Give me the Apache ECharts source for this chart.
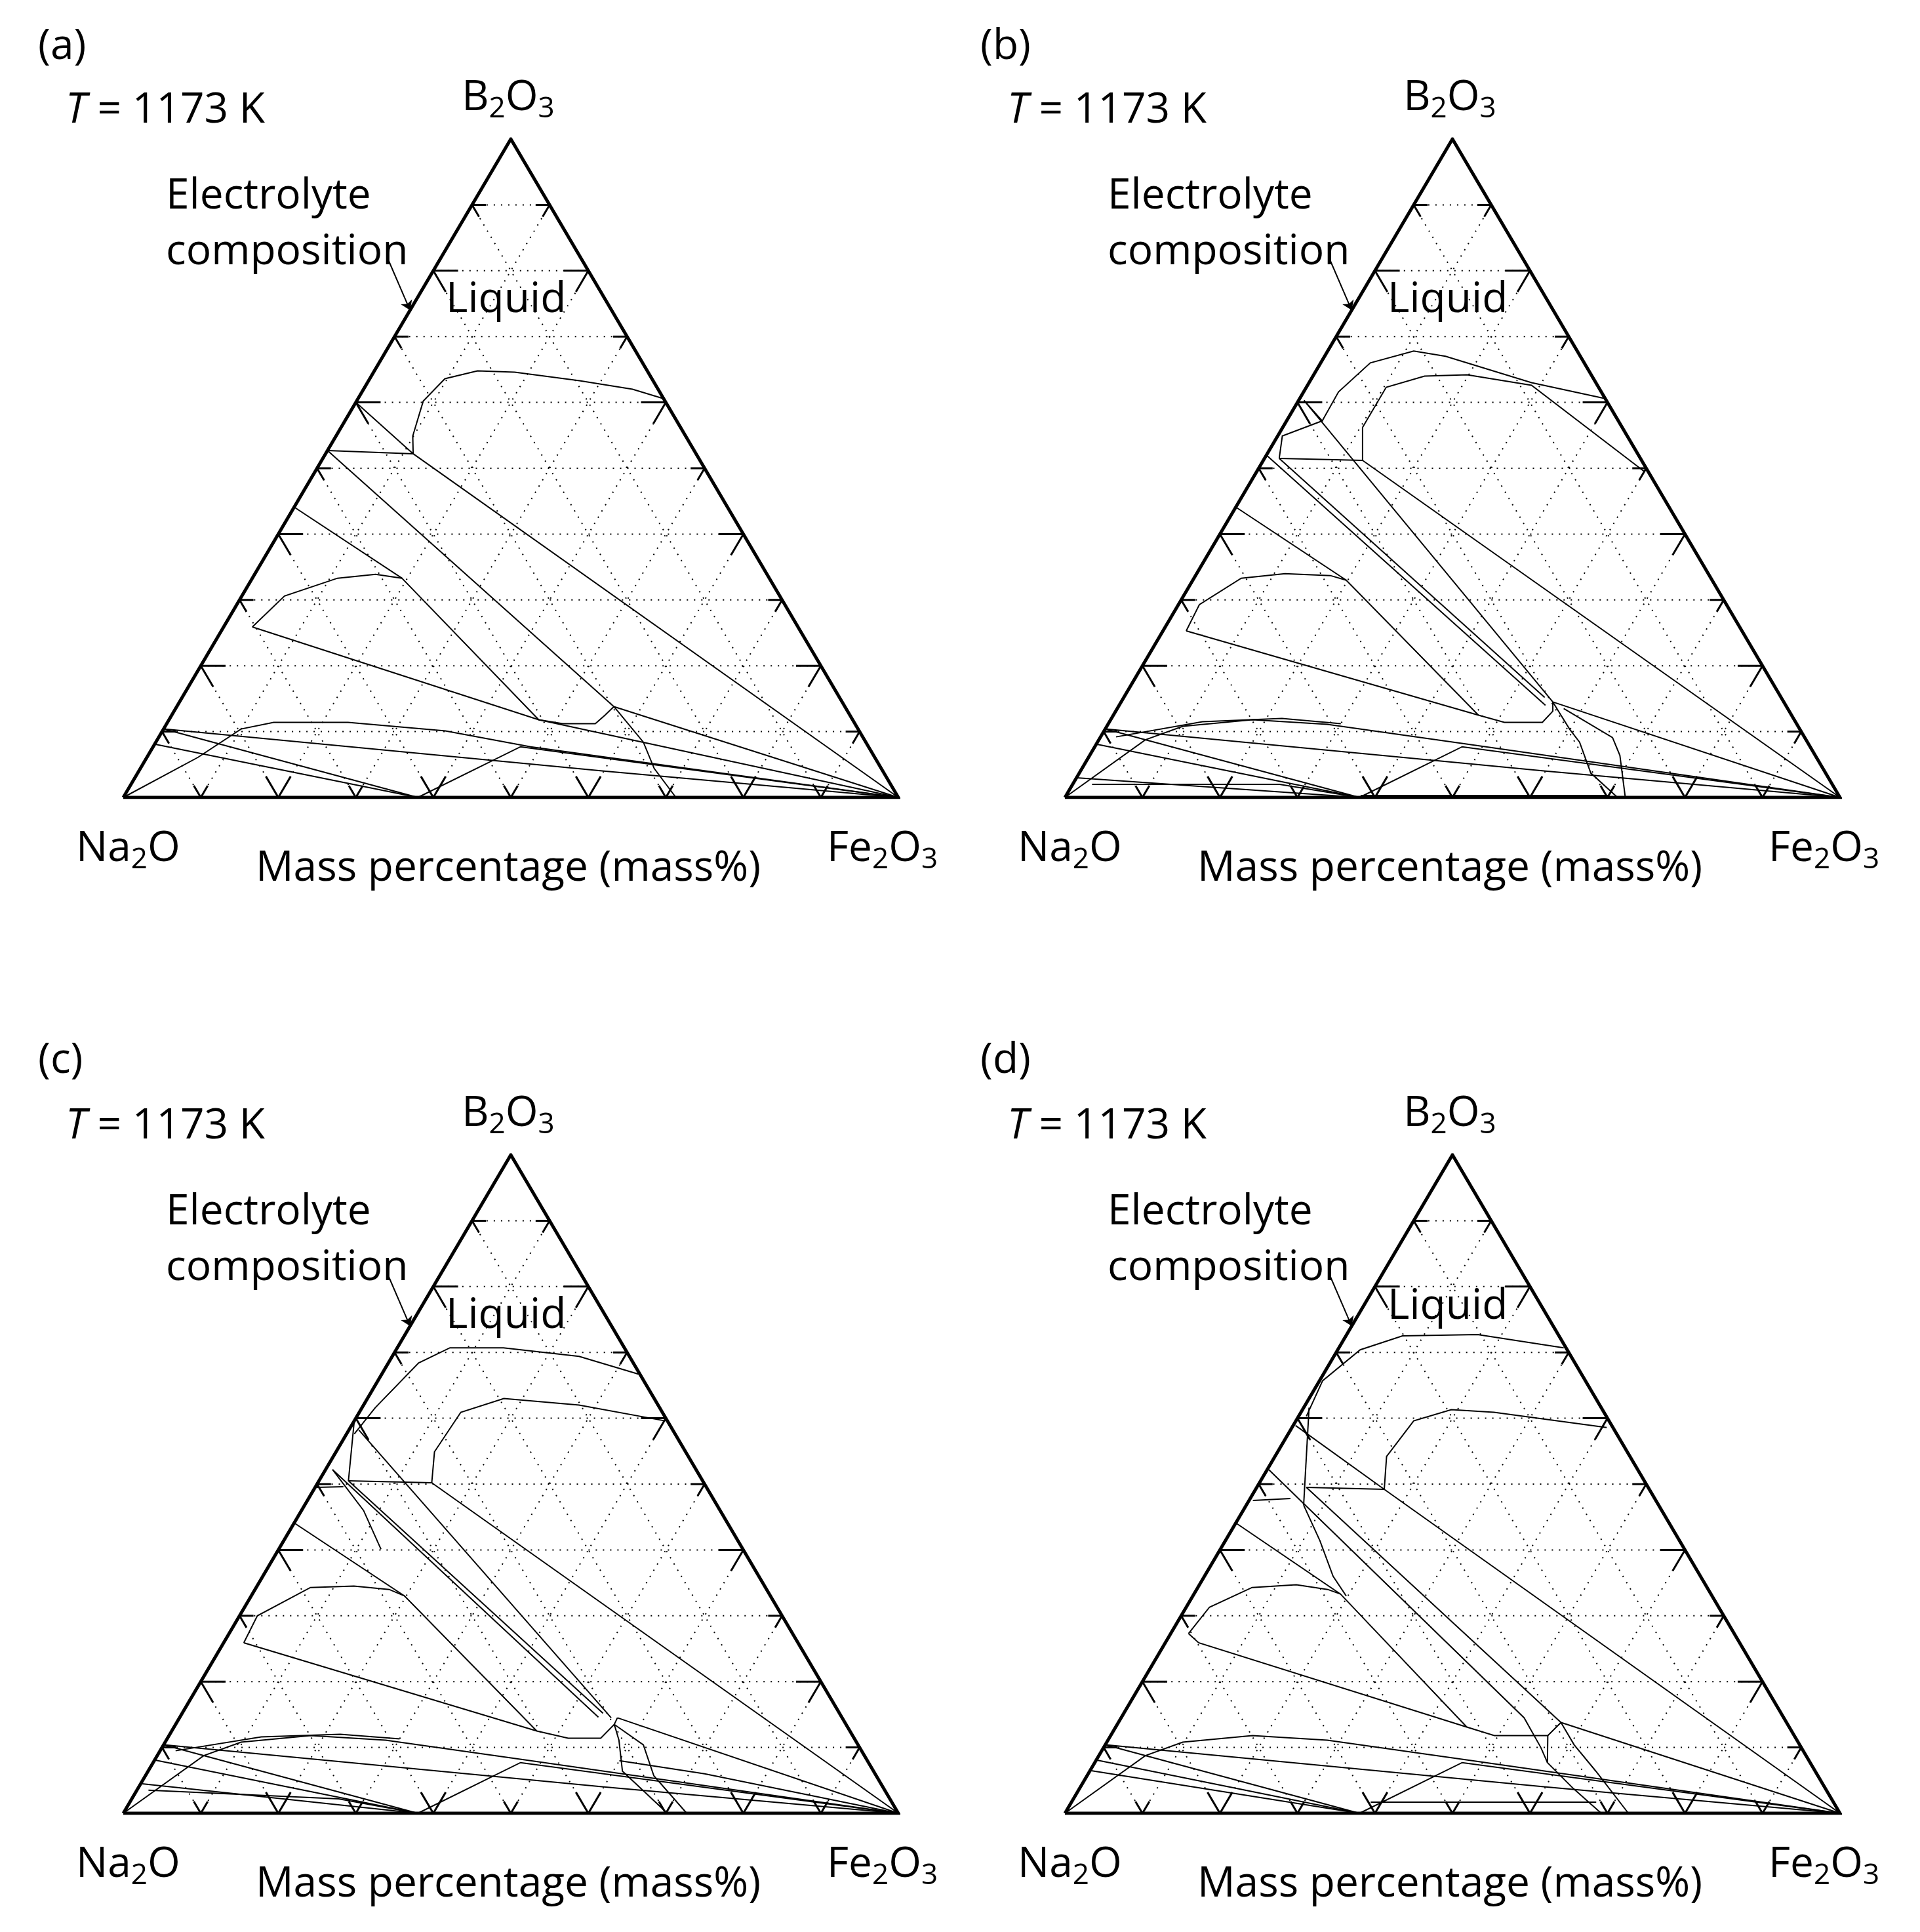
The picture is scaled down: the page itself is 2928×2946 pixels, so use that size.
<!DOCTYPE html>
<html>
<head>
<meta charset="utf-8">
<title>Na2O-B2O3-Fe2O3 1173 K</title>
<script src="https://cdn.jsdelivr.net/npm/echarts@6/dist/echarts.min.js"></script>
<style>
  body { margin: 0; background: #fff; }
  #main { width: 2928px; height: 2946px; }
</style>
</head>
<body>
<div id="main"></div>
<script>
// points are [Fe2O3 mass%, B2O3 mass%]; Na2O is the rest
const panelLabels = ['(a)', '(b)', '(c)', '(d)'];
const gridTicks = [10, 20, 30, 40, 50, 60, 70, 80, 90];
const arrowLine = [[-6.5, 81.5], [0, 74.0]];

const curvesA = [
  [[11.3,52.2],[9.9,54.9],[8.6,60.2],[9.7,63.6],[13.3,64.8],[18.2,64.6],[27.2,63.3],[34.7,62.0],[39.3,60.6]],
  [[0,52.7],[11.3,52.2]],
  [[0,60.0],[11.3,52.2]],
  [[11.3,52.2],[100,0]],
  [[0,52.7],[56.4,13.8]],
  [[56.4,13.8],[100,0]],
  [[56.4,13.8],[62.9,8.4],[66.3,4.4],[71.3,0]],
  [[0,44.1],[19.3,33.3]],
  [[3.7,25.9],[5.5,30.6],[11.0,33.3],[15.6,33.9],[19.3,33.3],[47.7,11.8],[51.1,11.2],[55.3,11.2],[55.9,12.5],[56.4,13.8]],
  [[3.7,25.9],[47.7,11.8],[100,0]],
  [[0,0],[6.6,6.1],[10.0,10.4],[13.7,11.4],[23.3,11.4],[36.5,10.1],[48.7,7.7],[100,0]],
  [[0,10.4],[38,0]],
  [[0,8.1],[38,0]],
  [[0,10.4],[60,4],[100,0]],
  [[38,0],[47.4,7.7],[100,0]]
];

const curvesB = [
  [[4.6,57.2],[4.5,61.6],[6.4,66.0],[11.1,67.8],[15.6,67.0],[28.7,63.0],[39.3,60.6]],
  [[12.8,51.2],[10.3,56.2],[10.3,62.3],[14.4,64.0],[19.8,64.2],[28.9,62.6],[50.0,49.5]],
  [[0.7,60.3],[4.6,57.2],[0.6,54.9],[1.9,51.5]],
  [[1.9,51.5],[12.8,51.2]],
  [[12.8,51.2],[100,0]],
  [[0.7,60.3],[55.7,14.5]],
  [[1.9,51.5],[54.3,15.2]],
  [[0,52.0],[55.0,14.0]],
  [[0,44.1],[19.8,33.0],[47.1,12.5]],
  [[3.0,25.3],[2.7,29.3],[6.1,33.3],[11.4,34.0],[17.4,33.7],[19.8,33.0]],
  [[3.0,25.3],[47.1,12.5],[51.0,11.4],[55.9,11.4],[56.4,13.1],[55.7,14.5]],
  [[55.7,14.5],[100,0]],
  [[55.7,14.5],[59.9,10.4],[62.2,8.4],[66.0,3.7],[71.3,0]],
  [[57.6,13.5],[66.1,9.1],[68.4,6.4],[72.3,0]],
  [[0,0],[6.0,8.75],[9.8,10.8],[18.3,11.8],[28.3,11.1],[47.9,8.1],[100,0]],
  [[2.0,9.2],[12.0,11.5],[22.0,12.0],[30.0,11.2]],
  [[0,10.4],[38,0]],
  [[0,8.1],[38,0]],
  [[0,10.4],[60,4],[100,0]],
  [[2.5,2.0],[26.7,2.0],[38,0]],
  [[0,3.0],[38,0]],
  [[38,0],[47.4,7.7],[100,0]],
  [[38,0.3],[70,0.3]]
];

const curvesC = [
  [[1.0,57.6],[1.7,61.6],[3.9,68.4],[6.8,70.7],[13.7,70.7],[24.1,69.4],[33.1,66.7]],
  [[14.7,50.2],[12.7,54.9],[13.1,60.9],[17.6,63.0],[27.8,62.0],[40.1,59.6]],
  [[3.8,50.5],[14.7,50.2]],
  [[0.2,49.5],[3.6,49.6]],
  [[14.7,50.2],[100,0]],
  [[0,59.6],[3.8,50.5]],
  [[0.9,52.2],[8.0,46.0],[13.2,40.1]],
  [[1.3,58.2],[55.7,14.5]],
  [[3.8,50.5],[54.3,15.2]],
  [[0.9,52.2],[54.0,14.6]],
  [[0,44.1],[19.8,33.0],[47.1,12.5]],
  [[2.6,25.9],[2.3,30.0],[7.0,34.3],[12.5,34.5],[17.3,34.0],[19.8,33.0]],
  [[2.6,25.9],[47.1,12.5],[51.7,11.4],[55.9,11.4],[56.6,13.5],[56.5,14.5]],
  [[56.5,14.5],[100,0]],
  [[56.6,13.5],[58.4,11.1],[61.2,6.4],[70.2,0]],
  [[56.6,13.5],[61.9,10.4],[65.6,5.7],[72.7,0]],
  [[0,0],[6.0,8.75],[9.8,10.8],[18.3,11.8],[28.3,11.1],[47.9,8.1],[100,0]],
  [[2.0,9.5],[12.0,11.6],[22.0,12.0],[30.0,11.3]],
  [[0,10.4],[38,0]],
  [[0,8.1],[38,0]],
  [[0,10.4],[60,4],[100,0]],
  [[0,4.5],[38,0]],
  [[1.5,3.5],[26.7,2.2],[38,0]],
  [[38,0],[47.4,7.7],[100,0]],
  [[60,8],[72,6],[100,0]]
];

const curvesD = [
  [[1.0,60.3],[0.4,65.7],[2.9,70.4],[7.3,72.5],[16.9,72.7],[29.0,70.7]],
  [[16.6,49.2],[14.4,54.2],[15.2,59.6],[19.2,61.3],[24.9,60.9],[40.6,58.6]],
  [[6.4,49.5],[16.6,49.2]],
  [[0.5,47.5],[5.2,47.8]],
  [[0.7,61.6],[7.4,46.8]],
  [[16.6,49.2],[100,0]],
  [[0.3,58.9],[16.6,49.2]],
  [[7.4,46.8],[12.2,41.4],[16.6,36.0],[19.8,33.0]],
  [[6.4,49.5],[57.1,13.8]],
  [[0.2,52.2],[52.0,14.5],[56.4,10.0],[58.4,7.7]],
  [[0,44.1],[18.9,33.3],[45.3,13.1]],
  [[2.3,27.3],[3.0,31.3],[7.0,34.3],[12.5,34.7],[16.9,34.0],[18.9,33.3]],
  [[2.3,27.3],[4.3,25.9],[45.3,13.1],[49.5,11.8],[56.4,11.8],[57.1,13.8]],
  [[57.1,13.8],[100,0]],
  [[57.1,13.8],[60.5,10.4],[65.3,6.4],[72.7,0]],
  [[56.4,11.8],[58.4,7.7],[63.8,3.7],[69.2,0]],
  [[0,0],[6.0,8.75],[9.8,10.8],[18.3,11.8],[28.3,11.1],[47.9,8.1],[100,0]],
  [[0,10.4],[38,0]],
  [[0,8.1],[38,0]],
  [[0,6.5],[38,0]],
  [[0,10.4],[60,4],[100,0]],
  [[38,0],[47.4,7.7],[100,0]],
  [[38.6,1.7],[67.7,1.7]]
];
const panelCurves = [curvesA, curvesB, curvesC, curvesD];

const H = Math.sqrt(3) / 2;
function toXY(p) { return [p[0] / 100 + p[1] / 200, p[1] / 100 * H]; }
function seg(a, b) { return { coords: [toXY(a), toXY(b)] }; }

// dotted composition grid
const gridSegs = [];
gridTicks.forEach(k => {
  gridSegs.push(seg([0, k], [100 - k, k]));
  gridSegs.push(seg([k, 0], [k, 100 - k]));
  gridSegs.push(seg([100 - k, 0], [0, 100 - k]));
});
// tick marks on the sides
const tickSegs = [];
gridTicks.forEach(k => {
  const L = (k % 20 === 0) ? 3.2 : 1.8;
  tickSegs.push(seg([0, k], [L, k]));
  tickSegs.push(seg([0, k], [L, k - L]));
  tickSegs.push(seg([100 - k, k], [100 - k - L, k]));
  tickSegs.push(seg([100 - k, k], [100 - k, k - L]));
  tickSegs.push(seg([k, 0], [k - L, L]));
  tickSegs.push(seg([k, 0], [k, L]));
});
const frame = [{ coords: [[0, 0], [1, 0], [0.5, H], [0, 0]] }];

const panels = [
  { left: 188, top: 212, lx: 58, ly: 72 },
  { left: 1624, top: 212, lx: 1495, ly: 72 },
  { left: 188, top: 1761, lx: 58, ly: 1618 },
  { left: 1624, top: 1761, lx: 1495, ly: 1618 }
];
const W = 1182, HT = 1004;
const font = 'Open Sans, Liberation Sans, sans-serif';
const rich = {
  n: { fontSize: 64, fontFamily: font, color: '#000', lineHeight: 76 },
  s: { fontSize: 44, fontFamily: font, color: '#000', lineHeight: 44, verticalAlign: 'bottom', padding: [24, 0, 0, 0] },
  i: { fontSize: 64, fontFamily: font, color: '#000', fontStyle: 'italic', lineHeight: 76 }
};

const grids = [], xAxes = [], yAxes = [], series = [], graphics = [];
panels.forEach((p, i) => {
  grids.push({ left: p.left, top: p.top, width: W, height: HT });
  xAxes.push({ gridIndex: i, type: 'value', min: 0, max: 1, show: false });
  yAxes.push({ gridIndex: i, type: 'value', min: 0, max: H, show: false });
  const base = { type: 'lines', coordinateSystem: 'cartesian2d', xAxisIndex: i, yAxisIndex: i, polyline: true, silent: true, animation: false };
  series.push(Object.assign({}, base, { data: gridSegs, lineStyle: { color: '#000', width: 2, type: [2, 9], opacity: 1 } }));
  series.push(Object.assign({}, base, { data: tickSegs, lineStyle: { color: '#000', width: 3, opacity: 1 } }));
  series.push(Object.assign({}, base, { data: panelCurves[i].map(c => ({ coords: c.map(toXY) })), lineStyle: { color: '#000', width: 2, opacity: 1 } }));
  series.push(Object.assign({}, base, { data: frame, lineStyle: { color: '#000', width: 5, opacity: 1 } }));
  series.push(Object.assign({}, base, { polyline: false, data: [{ coords: arrowLine.map(toXY) }], symbol: ['none', 'arrow'], symbolSize: 14, lineStyle: { color: '#000', width: 2, opacity: 1 } }));

  const t = (x, y, text, align) => graphics.push({
    type: 'text', x: x, y: y,
    style: { text: text, rich: rich, fontSize: 64, fontFamily: font, fill: '#000', align: align || 'left', verticalAlign: 'middle' }
  });
  t(p.lx, p.ly, '{n|' + panelLabels[i] + '}');
  t(p.left - 88, p.top - 43, '{i|T}{n| = 1173 K}');
  t(p.left + 587, p.top - 62, '{n|B}{s|2}{n|O}{s|3}', 'center');
  t(p.left + 65, p.top + 88, '{n|Electrolyte}');
  t(p.left + 65, p.top + 173, '{n|composition}');
  t(p.left + 492, p.top + (i === 3 ? 232 : 246), '{n|Liquid}');
  t(p.left - 72, p.top + 1083, '{n|Na}{s|2}{n|O}');
  t(p.left + 587, p.top + 1113, '{n|Mass percentage (mass%)}', 'center');
  t(p.left + 1073, p.top + 1083, '{n|Fe}{s|2}{n|O}{s|3}');
});

const myChart = echarts.init(document.getElementById('main'));
myChart.setOption({
  backgroundColor: '#fff',
  animation: false,
  grid: grids,
  xAxis: xAxes,
  yAxis: yAxes,
  series: series,
  graphic: { elements: graphics }
});
</script>
</body>
</html>
